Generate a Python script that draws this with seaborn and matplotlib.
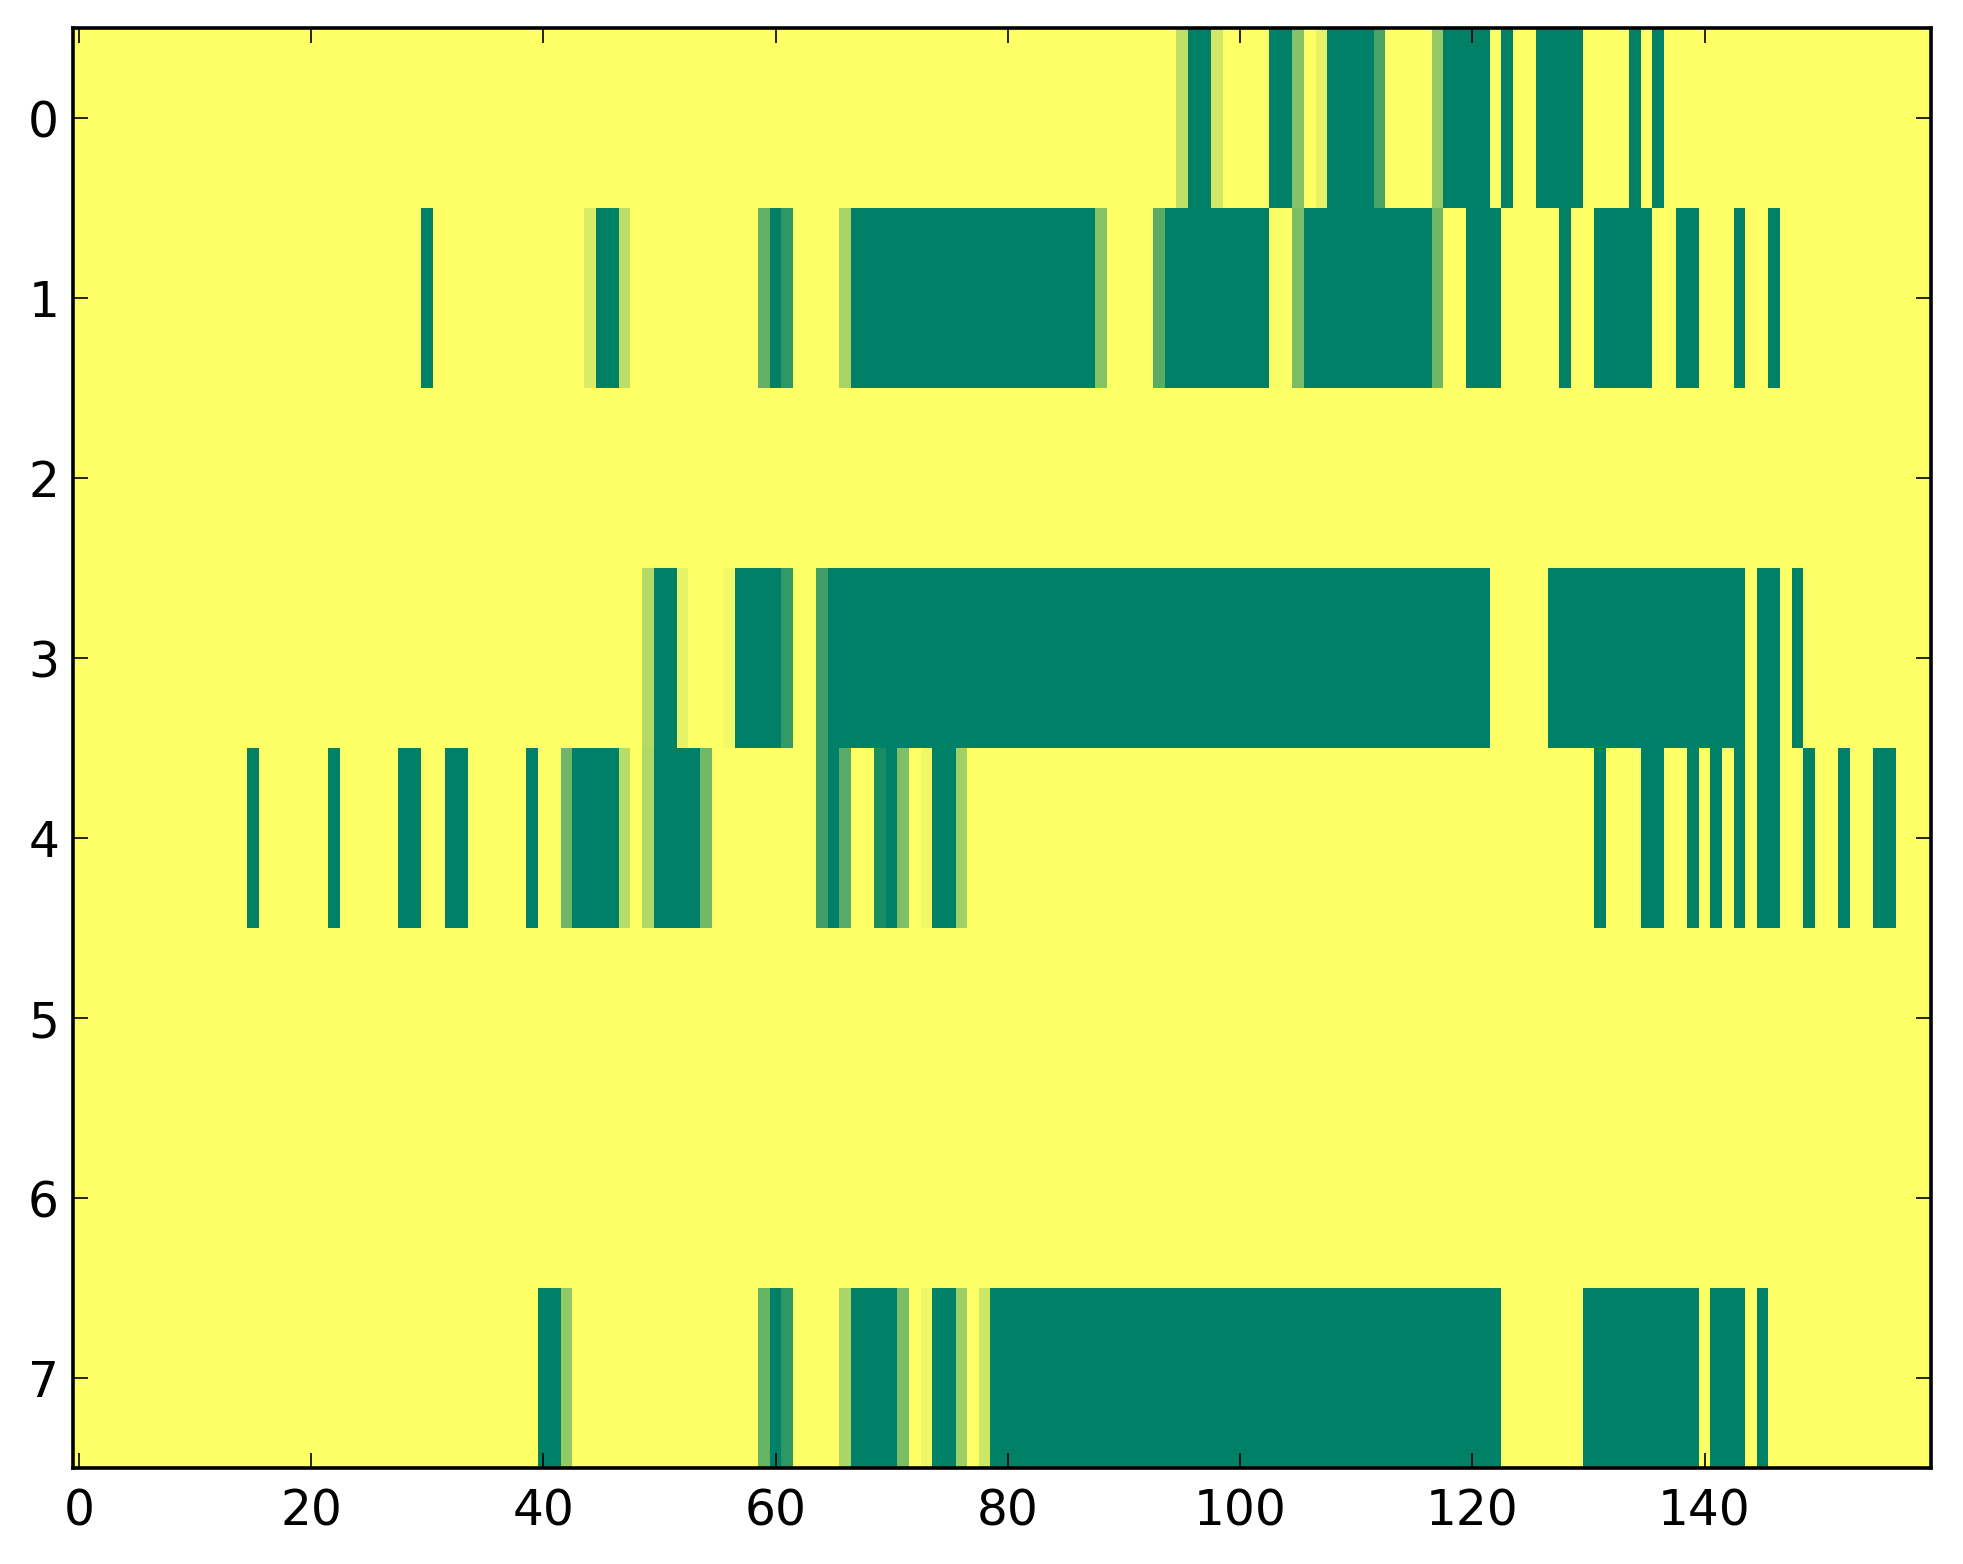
import numpy as np
import matplotlib
matplotlib.use("Agg")
import matplotlib.pyplot as plt
import seaborn as sns

N_ROWS = 8
N_COLS = 160

# runs of (first_col, last_col, value); unlisted cells are 0
row0 = [(95, 95, 0.25), (96, 97, 1), (98, 98, 0.18), (103, 104, 1), (105, 105, 0.47),
        (107, 107, 0.10), (108, 111, 1), (112, 112, 0.72), (117, 117, 0.42), (118, 121, 1),
        (123, 123, 1), (126, 129, 1), (134, 134, 1), (136, 136, 1)]
row1 = [(30, 30, 1), (44, 44, 0.15), (45, 46, 1), (47, 47, 0.26), (59, 59, 0.61), (60, 60, 1),
        (61, 61, 0.82), (66, 66, 0.34), (67, 87, 1), (88, 88, 0.48), (93, 93, 0.65),
        (94, 102, 1), (103, 103, 0.03), (105, 105, 0.52), (106, 116, 1), (117, 117, 0.57),
        (120, 122, 1), (128, 128, 1), (131, 135, 1), (138, 139, 1), (143, 143, 1), (146, 146, 1)]
row2 = []
row3 = [(49, 49, 0.30), (50, 51, 1), (52, 52, 0.10), (56, 56, 0.05), (57, 60, 1), (61, 61, 0.80),
        (64, 64, 0.75), (65, 121, 1), (127, 143, 1), (145, 146, 1), (148, 148, 1)]
row4 = [(15, 15, 1), (22, 22, 1), (28, 29, 1), (32, 33, 1), (39, 39, 1), (42, 42, 0.57),
        (43, 46, 1), (47, 47, 0.28), (49, 49, 0.31), (50, 53, 1), (54, 54, 0.56), (64, 64, 0.75),
        (65, 65, 1), (66, 66, 0.66), (69, 69, 0.90), (70, 70, 1), (71, 71, 0.50), (73, 73, 0.06),
        (74, 75, 1), (76, 76, 0.37), (131, 131, 1), (135, 136, 1), (139, 139, 1), (141, 141, 1),
        (143, 143, 1), (145, 146, 1), (149, 149, 1), (152, 152, 1), (155, 156, 1)]
row5 = []
row6 = []
row7 = [(40, 41, 1), (42, 42, 0.42), (59, 59, 0.60), (60, 60, 1), (61, 61, 0.82), (66, 66, 0.33),
        (67, 70, 1), (71, 71, 0.52), (73, 73, 0.07), (74, 75, 1), (76, 76, 0.38), (78, 78, 0.20),
        (79, 122, 1), (130, 139, 1), (141, 143, 1), (145, 145, 1)]

x_ticks = [0, 20, 40, 60, 80, 100, 120, 140]
y_ticks = [0, 1, 2, 3, 4, 5, 6, 7]

rows = [row0, row1, row2, row3, row4, row5, row6, row7]
data = np.zeros((N_ROWS, N_COLS))
for r, runs in enumerate(rows):
    for a, b, v in runs:
        data[r, a:b + 1] = v

W, H, DPI = 1963, 1564, 200
fig = plt.figure(figsize=(W / DPI, H / DPI), dpi=DPI)
ax = fig.add_axes([73 / W, 1 - 1468 / H, (1931 - 73) / W, (1468 - 28) / H])

sns.heatmap(data, ax=ax, cmap="summer_r", vmin=0, vmax=1, cbar=False,
            xticklabels=False, yticklabels=False)

for s in ax.spines.values():
    s.set_visible(True)
    s.set_color("black")
    s.set_linewidth(1.3)

ax.set_xticks([t + 0.5 for t in x_ticks])
ax.set_xticklabels([str(t) for t in x_ticks], rotation=0)
ax.set_yticks([t + 0.5 for t in y_ticks])
ax.set_yticklabels([str(t) for t in y_ticks], rotation=0)
ax.tick_params(axis="both", which="major", direction="in", length=5.5, width=0.6,
               top=True, right=True, labelsize=17.5, colors="black")
ax.tick_params(axis="x", pad=7)
ax.tick_params(axis="y", pad=5)
ax.set_xlim(0, N_COLS)
ax.set_ylim(N_ROWS, 0)
ax.set_xlabel("")
ax.set_ylabel("")

fig.savefig("out.png", dpi=DPI, facecolor="white")
